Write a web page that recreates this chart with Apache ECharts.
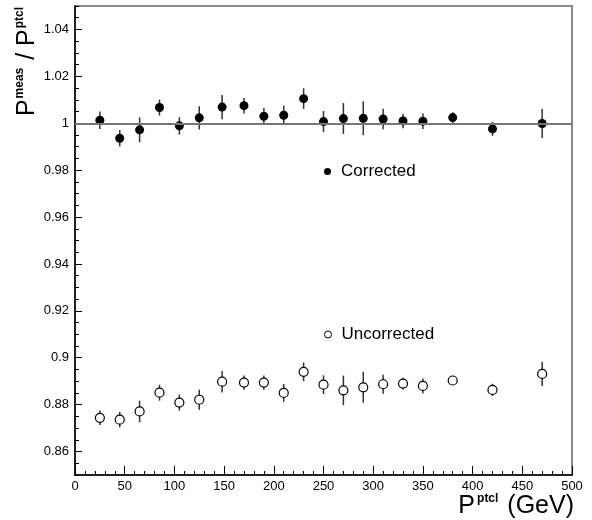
<!DOCTYPE html>
<html>
<head>
<meta charset="utf-8">
<script src="https://cdn.jsdelivr.net/npm/echarts@6/dist/echarts.min.js"></script>
<style>
html,body{margin:0;padding:0;background:#fff;}
#c{width:592px;height:520px;}
</style>
</head>
<body>
<div id="c"></div>
<script>
// ---- data ----
const xVals = [25,45,65,85,105,125,148,170,190,210,230,250,270,290,310,330,350,380,420,470];
const corrected = [1.0013,0.9936,0.9972,1.0067,0.9989,1.0023,1.0069,1.0075,1.0030,1.0034,1.0105,1.0007,1.0020,1.0021,1.0018,1.0010,1.0009,1.0024,0.9976,0.9999];
const correctedErr = [0.0037,0.0035,0.0053,0.0034,0.0037,0.0050,0.0052,0.0033,0.0035,0.0041,0.0044,0.0045,0.0066,0.0072,0.0044,0.0031,0.0033,0.0023,0.0030,0.0062];
const uncorrected = [0.8744,0.8736,0.8771,0.8851,0.8809,0.8821,0.8898,0.8894,0.8894,0.8850,0.8940,0.8885,0.8861,0.8874,0.8887,0.8890,0.8880,0.8903,0.8863,0.8931];
const uncorrectedErr = [0.0031,0.0033,0.0046,0.0034,0.0034,0.0043,0.0046,0.0030,0.0030,0.0038,0.0040,0.0040,0.0063,0.0066,0.0040,0.0025,0.0031,0.0015,0.0026,0.0051];
const yMajorTicks = [0.86,0.88,0.90,0.92,0.94,0.96,0.98,1.00,1.02,1.04];
const seriesNames = ['Corrected','Uncorrected'];

const FONT = '"Liberation Sans", Arial, Helvetica, sans-serif';

function pts(vals){ return xVals.map((x,i)=>[x, vals[i]]); }
function errData(vals, errs){ return xVals.map((x,i)=>[x, vals[i]-errs[i], vals[i]+errs[i]]); }

function errRender(params, api){
  const lo = api.coord([api.value(0), api.value(1)]);
  const hi = api.coord([api.value(0), api.value(2)]);
  return {type:'line', shape:{x1:lo[0],y1:lo[1],x2:hi[0],y2:hi[1]},
          style:{stroke:'#333', lineWidth:1.5}};
}

const chart = echarts.init(document.getElementById('c'), null, {renderer:'canvas'});
chart.setOption({
  animation:false,
  backgroundColor:'#fff',
  grid:{left:75, right:20, top:6, bottom:45, containLabel:false, show:true, borderColor:'#888', borderWidth:2},
  xAxis:{
    type:'value', min:0, max:500, interval:50,
    axisLine:{show:true, onZero:false, lineStyle:{color:'#000', width:1.5}},
    axisTick:{show:true, inside:true, length:9, lineStyle:{color:'#000', width:1}},
    minorTick:{show:true, splitNumber:5, length:4, lineStyle:{color:'#000', width:1}},
    axisLabel:{color:'#000', fontSize:13, fontFamily:FONT, margin:5},
    splitLine:{show:false}
  },
  yAxis:[{
    type:'value', min:0.85, max:1.05,
    axisLine:{show:true, onZero:false, lineStyle:{color:'#000', width:1.5}},
    axisTick:{show:true, inside:true, length:7, customValues:yMajorTicks, lineStyle:{color:'#000', width:1}},
    axisLabel:{color:'#000', fontSize:13, fontFamily:FONT, margin:6, customValues:yMajorTicks,
      formatter:v=>String(parseFloat(v.toFixed(2)))},
    splitLine:{show:false}
  },{
    type:'value', min:0.85, max:1.05, interval:0.005, position:'left',
    axisLine:{show:false},
    axisTick:{show:true, inside:true, length:4, lineStyle:{color:'#000', width:1}},
    axisLabel:{show:false},
    splitLine:{show:false}
  }],
  legend:[
    {data:[seriesNames[0]], left:319, top:158, orient:'vertical', itemWidth:7, itemHeight:7,
     textStyle:{fontSize:17, fontFamily:FONT, color:'#000', padding:[0,0,0,5]}},
    {data:[{name:seriesNames[1], itemStyle:{borderWidth:1}}], left:319, top:321, orient:'vertical', itemWidth:7, itemHeight:7,
     textStyle:{fontSize:17, fontFamily:FONT, color:'#000', padding:[0,0,0,5]}}
  ],
  graphic:[
    {type:'text', x:574, y:519, style:{
      text:'{p|P}{s|ptcl}{p| (GeV)}', align:'right', verticalAlign:'bottom', fill:'#000',
      rich:{p:{fontSize:25, fontFamily:FONT, fill:'#000', lineHeight:26},
            s:{fontSize:12, fontWeight:'bold', fontFamily:FONT, fill:'#000', verticalAlign:'top', lineHeight:26, padding:[0,2,0,2]}}
    }},
    {type:'text', x:27, y:61, rotation:Math.PI/2, style:{
      text:'{p|P}{s|meas}{p| / P}{s|ptcl}', align:'center', verticalAlign:'middle', fill:'#000',
      rich:{p:{fontSize:25, fontFamily:FONT, fill:'#000', lineHeight:26},
            s:{fontSize:12, fontWeight:'bold', fontFamily:FONT, fill:'#000', verticalAlign:'top', lineHeight:26, padding:[0,1,0,1]}}
    }}
  ],
  series:[
    {type:'custom', name:'corrErr', renderItem:errRender, data:errData(corrected, correctedErr), z:2,
     encode:{x:0, y:[1,2]}, silent:true,
     markLine:{silent:true, symbol:['none','none'], label:{show:false},
       lineStyle:{color:'#777', width:2, type:'solid'}, data:[{yAxis:1}]}},
    {type:'custom', name:'uncErr', renderItem:errRender, data:errData(uncorrected, uncorrectedErr), z:2,
     encode:{x:0, y:[1,2]}, silent:true},
    {type:'scatter', name:seriesNames[0], data:pts(corrected), symbol:'circle', symbolSize:9, z:3,
     itemStyle:{color:'#000', opacity:1}},
    {type:'scatter', name:seriesNames[1], data:pts(uncorrected), symbol:'circle', symbolSize:9, z:3,
     itemStyle:{color:'#fff', borderColor:'#000', borderWidth:1.2, opacity:1}}
  ]
});
</script>
</body>
</html>
